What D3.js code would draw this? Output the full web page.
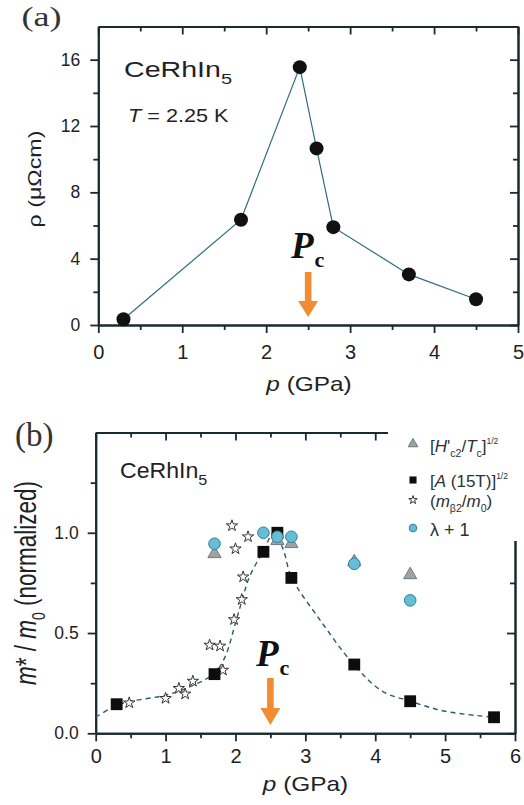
<!DOCTYPE html>
<html><head><meta charset="utf-8">
<script src="https://cdn.jsdelivr.net/npm/d3@7"></script>
<style>
body{margin:0;background:#fff;}
svg{display:block;}
text{font-family:"Liberation Sans",Arial,sans-serif;fill:#1f2224;}
text.serif{font-family:"Liberation Serif","Times New Roman",serif;}
</style></head><body>
<svg id="chart" width="524" height="805"></svg>
<script>
// ---------- Panel (a) data ----------
const pressureA = [0.3, 1.7, 2.4, 2.6, 2.8, 3.7, 4.5];
const rhoA      = [0.35, 6.35, 15.55, 10.65, 5.9, 3.05, 1.55];
const xTicksA   = [0, 1, 2, 3, 4, 5];
const yTicksA   = [0, 4, 8, 12, 16];

// ---------- Panel (b) data ----------
const pressureSq   = [0.3, 1.7, 2.4, 2.6, 2.8, 3.7, 4.5, 5.7];
const aSq          = [0.145, 0.295, 0.905, 1.0, 0.775, 0.343, 0.16, 0.08];
const pressureTri  = [1.7, 2.6, 2.8, 3.7, 4.5];
const hc2Tri       = [0.895, 0.96, 0.945, 0.855, 0.79];
const pressureCirc = [1.7, 2.4, 2.6, 2.8, 3.7, 4.5];
const lambdaCirc   = [0.945, 1.0, 0.98, 0.98, 0.845, 0.663];
const pressureStar = [0.48, 1.0, 1.19, 1.28, 1.39, 1.63, 1.78, 1.82, 1.98, 2.09, 2.11, 2.0, 1.95, 2.18];
const massStar     = [0.152, 0.174, 0.224, 0.196, 0.26, 0.44, 0.435, 0.315, 0.567, 0.667, 0.78, 0.92, 1.035, 0.98];
const guideP = [0, 0.3, 0.5, 1.0, 1.4, 1.7, 1.85, 2.0, 2.1, 2.2, 2.4, 2.55, 2.68, 2.8, 3.2, 3.7, 4.1, 4.5, 5.0, 5.7];
const guideV = [0.08, 0.14, 0.16, 0.19, 0.24, 0.30, 0.38, 0.55, 0.67, 0.78, 0.91, 1.0, 0.92, 0.78, 0.57, 0.34, 0.21, 0.16, 0.11, 0.08];
const xTicksB = [0, 1, 2, 3, 4, 5, 6];
const yTicksB = [0, 0.5, 1.0];
const criticalP = 2.5;

const svg = d3.select('#chart');
const ink = '#1b2a31';

function styleAxis(g, tickFont) {
  g.select('.domain').attr('stroke', ink).attr('stroke-width', 2);
  g.selectAll('.tick line').attr('stroke', ink).attr('stroke-width', 1.8);
  g.selectAll('.tick text').attr('fill', '#1f2224').attr('font-size', tickFont);
}

function frame(x, y, xMajor, xMinor, yMajor, yMinor, xPad, yPad, xFmt, yFmt) {
  const [x0, x1] = x.range(), [y0, y1] = y.range();
  const gb = svg.append('g').attr('transform', `translate(0,${y0})`)
    .call(d3.axisBottom(x).tickValues(xMajor).tickSize(8).tickSizeOuter(0).tickPadding(xPad).tickFormat(xFmt));
  styleAxis(gb, 20);
  const gbm = svg.append('g').attr('transform', `translate(0,${y0})`)
    .call(d3.axisBottom(x).tickValues(xMinor).tickSize(5).tickSizeOuter(0).tickFormat(''));
  styleAxis(gbm, 20);
  const gt = svg.append('g').attr('transform', `translate(0,${y1})`)
    .call(d3.axisTop(x).tickValues(xMajor).tickSize(-8).tickSizeOuter(0).tickFormat(''));
  styleAxis(gt, 20);
  const gtm = svg.append('g').attr('transform', `translate(0,${y1})`)
    .call(d3.axisTop(x).tickValues(xMinor).tickSize(-5).tickSizeOuter(0).tickFormat(''));
  styleAxis(gtm, 20);
  const gl = svg.append('g').attr('transform', `translate(${x0},0)`)
    .call(d3.axisLeft(y).tickValues(yMajor).tickSize(8).tickSizeOuter(0).tickPadding(yPad).tickFormat(yFmt));
  styleAxis(gl, 17.5);
  const glm = svg.append('g').attr('transform', `translate(${x0},0)`)
    .call(d3.axisLeft(y).tickValues(yMinor).tickSize(5).tickSizeOuter(0).tickFormat(''));
  styleAxis(glm, 17.5);
  const gr = svg.append('g').attr('transform', `translate(${x1},0)`)
    .call(d3.axisRight(y).tickValues(yMajor).tickSize(-8).tickSizeOuter(0).tickFormat(''));
  styleAxis(gr, 17.5);
  const grm = svg.append('g').attr('transform', `translate(${x1},0)`)
    .call(d3.axisRight(y).tickValues(yMinor).tickSize(-5).tickSizeOuter(0).tickFormat(''));
  styleAxis(grm, 17.5);
}

function rich(textSel, segs, size) {
  let shift = 0;
  segs.forEach(s => {
    const target = s.sub ? size * 0.32 : s.sup ? -size * 0.5 : 0;
    const t = textSel.append('tspan').attr('dy', target - shift).text(s.t);
    shift = target;
    if (s.i) t.attr('font-style', 'italic');
    if (s.sub || s.sup) t.attr('font-size', size * (s.small || 0.62));
  });
}

function pcArrow(cx, pX, pY, arrowTop, headTop, tip) {
  const t = svg.append('text').attr('class', 'serif').attr('x', pX).attr('y', pY)
    .attr('font-weight', 'bold').style('fill', '#111');
  t.append('tspan').attr('font-style', 'italic').attr('font-size', 37).text('P');
  t.append('tspan').attr('font-size', 22).attr('dy', 9).attr('dx', 1).text('c');
  const orange = '#f28c33';
  svg.append('rect').attr('x', cx - 3.3).attr('y', arrowTop).attr('width', 6.6)
    .attr('height', headTop - arrowTop + 1).attr('fill', orange);
  svg.append('path').attr('d', `M${cx - 10},${headTop} L${cx + 10},${headTop} L${cx},${tip} Z`)
    .attr('fill', orange);
}

// ================= Panel (a) =================
const xA = d3.scaleLinear().domain([0, 5]).range([98.3, 518]);
const yA = d3.scaleLinear().domain([0, 18]).range([325, 26.5]);
frame(xA, yA, xTicksA, d3.range(0.5, 5, 1), yTicksA, d3.range(2, 18, 4), 12, 10, d3.format('d'), d3.format('d'));

svg.append('path')
  .datum(pressureA.map((p, i) => [p, rhoA[i]]))
  .attr('fill', 'none').attr('stroke', '#2f6d7e').attr('stroke-width', 1.2)
  .attr('d', d3.line().x(d => xA(d[0])).y(d => yA(d[1])));
svg.append('g').selectAll('circle')
  .data(pressureA.map((p, i) => [p, rhoA[i]]))
  .join('circle').attr('cx', d => xA(d[0])).attr('cy', d => yA(d[1]))
  .attr('r', 7).attr('fill', '#111');

svg.append('text').attr('class', 'serif').attr('x', 21.5).attr('y', 26).attr('font-size', 27)
  .style('fill', '#333')
  .attr('textLength', 40).attr('lengthAdjust', 'spacingAndGlyphs').text('(a)');

{
  const t = svg.append('text').attr('transform', 'translate(124,77) scale(1.3,1)').attr('font-size', 22);
  rich(t, [{t: 'CeRhIn'}, {t: '5', sub: true, small: 0.7}], 22);
  const t2 = svg.append('text').attr('transform', 'translate(128,122) scale(1.17,1)').attr('font-size', 18.5);
  rich(t2, [{t: 'T', i: true}, {t: ' = 2.25 K'}], 18.5);
}
svg.append('text').attr('transform', 'translate(41,179) rotate(-90)').attr('text-anchor', 'middle')
  .attr('font-size', 18).attr('textLength', 97).attr('lengthAdjust', 'spacingAndGlyphs')
  .text('ρ (μΩcm)');
{
  const t = svg.append('text').attr('transform', 'translate(309,391) scale(1.16,1)')
    .attr('text-anchor', 'middle').attr('font-size', 21);
  rich(t, [{t: 'p', i: true}, {t: ' (GPa)'}], 21);
}
pcArrow(xA(criticalP), 291, 258, 272, 301, 317);

// ================= Panel (b) =================
const xB = d3.scaleLinear().domain([0, 6]).range([95.7, 515]);
const yB = d3.scaleLinear().domain([0, 1.5]).range([733.3, 432.5]);
frame(xB, yB, xTicksB, d3.range(0.5, 6, 1), yTicksB, [0.25, 0.75, 1.25], 8, 9, d3.format('d'), d3.format('.1f'));

// legend backdrop (hides the top-right part of the frame)
svg.append('rect').attr('x', 388).attr('y', 420).attr('width', 140).attr('height', 121).attr('fill', '#fff');

svg.append('path')
  .datum(guideP.map((p, i) => [p, guideV[i]]))
  .attr('fill', 'none').attr('stroke', '#2b5a68').attr('stroke-width', 1.4)
  .attr('stroke-dasharray', '5,4')
  .attr('d', d3.line().curve(d3.curveCatmullRom.alpha(0.5)).x(d => xB(d[0])).y(d => yB(d[1])));

svg.append('g').selectAll('path')
  .data(pressureStar.map((p, i) => [p, massStar[i]]))
  .join('path').attr('transform', d => `translate(${xB(d[0])},${yB(d[1])})`)
  .attr('d', d3.symbol().type(d3.symbolStar).size(40)())
  .attr('fill', '#fff').attr('stroke', '#333').attr('stroke-width', 1);
svg.append('g').selectAll('path')
  .data(pressureSq.map((p, i) => [p, aSq[i]]))
  .join('path').attr('transform', d => `translate(${xB(d[0])},${yB(d[1])})`)
  .attr('d', d3.symbol().type(d3.symbolSquare).size(140)())
  .attr('fill', '#0d0d0d');
svg.append('g').selectAll('path')
  .data(pressureTri.map((p, i) => [p, hc2Tri[i]]))
  .join('path').attr('transform', d => `translate(${xB(d[0])},${yB(d[1])})`)
  .attr('d', d3.symbol().type(d3.symbolTriangle).size(75)())
  .attr('fill', '#9ea3a7').attr('stroke', '#6c7a82').attr('stroke-width', 1);
svg.append('g').selectAll('circle')
  .data(pressureCirc.map((p, i) => [p, lambdaCirc[i]]))
  .join('circle').attr('cx', d => xB(d[0])).attr('cy', d => yB(d[1]))
  .attr('r', 5.8).attr('fill', '#66bdd6').attr('stroke', '#2f7f98').attr('stroke-width', 1);

svg.append('text').attr('class', 'serif').attr('x', 15).attr('y', 446).attr('font-size', 33)
  .style('fill', '#333').text('(b)');
{
  const t = svg.append('text').attr('transform', 'translate(120,478) scale(1.05,1)').attr('font-size', 22);
  rich(t, [{t: 'CeRhIn'}, {t: '5', sub: true, small: 0.7}], 22);
}
{
  const t = svg.append('text').attr('transform', 'translate(36,583) rotate(-90) scale(1,1.3)')
    .attr('text-anchor', 'middle').attr('font-size', 22.5);
  rich(t, [{t: 'm', i: true}, {t: '* / '}, {t: 'm', i: true}, {t: '0', sub: true}, {t: ' (normalized)'}], 22.5);
}
{
  const t = svg.append('text').attr('transform', 'translate(305.5,791) scale(1.16,1)')
    .attr('text-anchor', 'middle').attr('font-size', 21);
  rich(t, [{t: 'p', i: true}, {t: ' (GPa)'}], 21);
}
pcArrow(xB(criticalP), 256, 666, 678, 708, 725);

// legend
const legendLabels = [
  [{t: '['}, {t: 'H', i: true}, {t: "'"}, {t: 'c2', sub: true}, {t: '/'}, {t: 'T', i: true}, {t: 'c', sub: true}, {t: ']'}, {t: '1/2', sup: true, small: 0.5}],
  [{t: '['}, {t: 'A', i: true}, {t: ' (15T)]'}, {t: '1/2', sup: true, small: 0.5}],
  [{t: '('}, {t: 'm', i: true}, {t: 'β2', sub: true}, {t: '/'}, {t: 'm', i: true}, {t: '0', sub: true}, {t: ')'}],
  [{t: 'λ + 1'}]
];
const legendY = [444, 480, 500, 528];
const legendBase = [452, 487, 507, 536];
const lx = 413;
svg.append('path').attr('transform', `translate(${lx},${legendY[0]})`)
  .attr('d', d3.symbol().type(d3.symbolTriangle).size(40)())
  .attr('fill', '#9ea3a7').attr('stroke', '#6c7a82');
svg.append('path').attr('transform', `translate(${lx},${legendY[1]})`)
  .attr('d', d3.symbol().type(d3.symbolSquare).size(50)()).attr('fill', '#0d0d0d');
svg.append('path').attr('transform', `translate(${lx},${legendY[2]})`)
  .attr('d', d3.symbol().type(d3.symbolStar).size(22)())
  .attr('fill', '#fff').attr('stroke', '#333').attr('stroke-width', 1);
svg.append('circle').attr('cx', lx).attr('cy', legendY[3]).attr('r', 3.8)
  .attr('fill', '#66bdd6').attr('stroke', '#2f7f98');
legendLabels.forEach((segs, i) => {
  const t = svg.append('text').attr('x', 430).attr('y', legendBase[i])
    .attr('font-size', i === 3 ? 18 : 17).style('fill', '#2a3236');
  rich(t, segs, i === 3 ? 18 : 17);
});
</script>
</body></html>
